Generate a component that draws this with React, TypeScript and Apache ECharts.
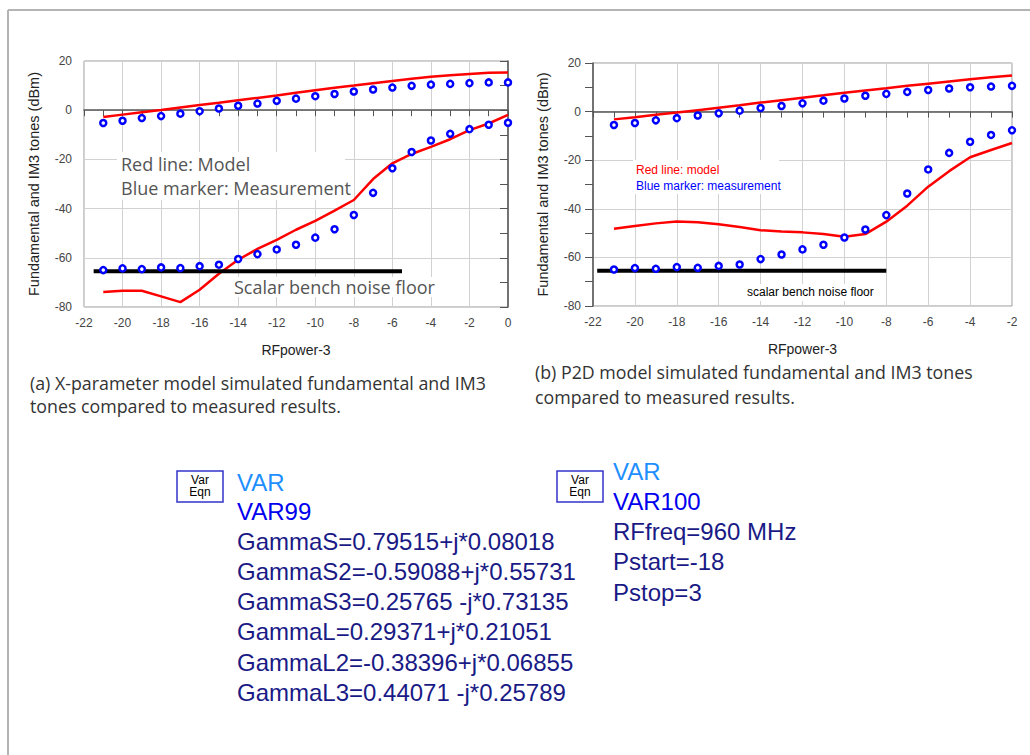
import React, { useEffect, useRef } from "react";
import * as echarts from "echarts";

// ---------- data ----------
const xLeft = [-21, -20, -19, -18, -17, -16, -15, -14, -13, -12, -11, -10, -9, -8, -7, -6, -5, -4, -3, -2, -1, 0];
const fundModelLeft = [-2.8, -1.8, -0.8, 0.1, 1.1, 2.1, 3.0, 4.0, 5.0, 6.0, 7.1, 8.1, 9.1, 10.0, 11.0, 11.9, 12.8, 13.6, 14.2, 14.7, 15.2, 15.3];
const fundMeasLeft = [-5.2, -4.3, -3.2, -2.4, -1.4, -0.4, 0.7, 1.8, 2.7, 3.8, 4.7, 5.7, 6.6, 7.6, 8.4, 9.2, 9.9, 10.4, 10.7, 11.0, 11.3, 11.3];
const im3ModelLeft = [-73.9, -73.4, -73.4, -75.7, -78.0, -73.0, -66.5, -60.8, -56.4, -52.7, -48.6, -45.0, -40.8, -36.5, -28.0, -21.6, -17.8, -14.9, -11.8, -8.1, -5.4, -1.9];
const im3MeasLeft = [-65.0, -64.3, -64.6, -63.9, -64.2, -63.4, -62.8, -60.5, -58.5, -56.6, -54.7, -51.8, -48.4, -42.6, -33.6, -23.6, -17.0, -12.3, -9.6, -7.7, -5.9, -5.1];
const noiseFloorLeft = [[-21.5, -65.5], [-5.5, -65.5]];

const xRight = [-21, -20, -19, -18, -17, -16, -15, -14, -13, -12, -11, -10, -9, -8, -7, -6, -5, -4, -3, -2];
const fundModelRight = [-3.2, -2.3, -1.3, -0.4, 0.6, 1.6, 2.6, 3.7, 4.7, 5.7, 6.7, 7.8, 8.7, 9.6, 10.6, 11.5, 12.4, 13.3, 14.1, 14.9];
const fundMeasRight = [-5.5, -4.7, -3.6, -2.7, -1.6, -0.7, 0.4, 1.5, 2.3, 3.4, 4.5, 5.4, 6.5, 7.3, 8.1, 8.9, 9.5, 10.0, 10.3, 10.6];
const im3ModelRight = [-48.2, -47.1, -46.0, -45.2, -45.5, -46.4, -47.5, -48.8, -49.3, -49.7, -50.4, -51.5, -50.4, -45.3, -38.7, -30.9, -24.5, -18.8, -15.8, -12.9];
const im3MeasRight = [-65.0, -64.4, -64.7, -64.0, -64.3, -63.5, -62.9, -60.7, -58.8, -56.7, -54.8, -51.8, -48.5, -42.6, -33.7, -23.8, -17.0, -12.4, -9.6, -7.7];
const noiseFloorRight = [[-21.8, -65.5], [-8.0, -65.5]];

const yAxisName = "Fundamental and IM3 tones (dBm)";
const xAxisName = "RFpower-3";
const captionA = ["(a) X-parameter model simulated fundamental and IM3", "tones compared to measured results."];
const captionB = ["(b) P2D model simulated fundamental and IM3 tones", "compared to measured results."];
const varLeft = ["GammaS=0.79515+j*0.08018", "GammaS2=-0.59088+j*0.55731", "GammaS3=0.25765 -j*0.73135", "GammaL=0.29371+j*0.21051", "GammaL2=-0.38396+j*0.06855", "GammaL3=0.44071 -j*0.25789"];
const varRight = ["RFfreq=960 MHz", "Pstart=-18", "Pstop=3"];

const pairs = (xs: number[], ys: number[]) => xs.map((x, i) => [x, ys[i]]);

const AX_FONT = "'Liberation Sans', Arial, sans-serif";
const CAP_FONT = "'Open Sans', sans-serif";

function makeXAxis(gridIndex: number, max: number) {
  return {
    type: "value",
    gridIndex,
    min: -22,
    max,
    interval: 2,
    name: xAxisName,
    nameLocation: "middle",
    nameGap: 36,
    nameTextStyle: { fontSize: 14, color: "#222", fontFamily: AX_FONT },
    axisLine: { show: true, lineStyle: { color: "#555", width: 1.5 } },
    axisTick: { show: true, inside: false, length: 6, lineStyle: { color: "#555" } },
    minorTick: { show: true, splitNumber: 2, length: 6, lineStyle: { color: "#555" } },
    splitLine: { show: true, lineStyle: { color: "#d2d2d2", width: 1 } },
    axisLabel: { fontSize: 12, color: "#444", margin: 10, fontFamily: AX_FONT },
  };
}

function makeYAxis(gridIndex: number, gap: number) {
  return {
    type: "value",
    gridIndex,
    min: -80,
    max: 20,
    interval: 20,
    name: yAxisName,
    nameLocation: "middle",
    nameGap: gap,
    nameTextStyle: { fontSize: 14.5, color: "#222", fontFamily: AX_FONT },
    axisLine: { show: true, lineStyle: { color: "#555", width: 1.5 } },
    axisTick: { show: true, inside: false, length: 8, lineStyle: { color: "#555" } },
    minorTick: { show: true, splitNumber: 2, length: 8, lineStyle: { color: "#555" } },
    splitLine: { show: true, lineStyle: { color: "#d2d2d2", width: 1 } },
    axisLabel: { fontSize: 12, color: "#444", margin: 12, fontFamily: AX_FONT },
  };
}

function lineSeries(idx: number, data: number[][], color: string, width: number) {
  return {
    type: "line",
    xAxisIndex: idx,
    yAxisIndex: idx,
    data,
    showSymbol: false,
    symbol: "none",
    lineStyle: { color, width },
    z: 3,
    silent: true,
  };
}

function markerSeries(idx: number, data: number[][]) {
  return {
    type: "scatter",
    xAxisIndex: idx,
    yAxisIndex: idx,
    data,
    symbol: "circle",
    symbolSize: 6,
    itemStyle: { color: "#ffffff", borderColor: "#0000ff", borderWidth: 2.5, opacity: 1 },
    z: 4,
    silent: true,
  };
}

function txt(x: number, y: number, text: string, font: string, size: number, color: string, extra: any = {}) {
  return {
    type: "text",
    x,
    y,
    z: 10,
    silent: true,
    style: {
      text,
      fontFamily: font,
      fontSize: size,
      fill: color,
      textAlign: "left",
      textVerticalAlign: "middle",
      ...extra,
    },
  };
}

function whiteRect(x: number, y: number, w: number, h: number) {
  return { type: "rect", z: 1, silent: true, shape: { x, y, width: w, height: h }, style: { fill: "#ffffff" } };
}

function varBox(x: number, y: number) {
  return [
    { type: "rect", z: 5, silent: true, shape: { x, y, width: 46, height: 31 }, style: { fill: "#fff", stroke: "#3333cc", lineWidth: 1.5 } },
    { type: "text", z: 6, silent: true, x: x + 23, y: y + 9, style: { text: "Var", fontFamily: AX_FONT, fontSize: 12, fill: "#000", textAlign: "center", textVerticalAlign: "middle" } },
    { type: "text", z: 6, silent: true, x: x + 23, y: y + 21, style: { text: "Eqn", fontFamily: AX_FONT, fontSize: 12, fill: "#000", textAlign: "center", textVerticalAlign: "middle" } },
  ];
}

export default function App() {
  const ref = useRef<HTMLDivElement>(null);
  useEffect(() => {
    if (!ref.current) return;
    const chart = echarts.init(ref.current, undefined, { renderer: "svg" });

    const graphic: any[] = [
      { type: "line", z: 0, silent: true, shape: { x1: 8, y1: 10, x2: 8, y2: 755 }, style: { stroke: "#b4b4b4", lineWidth: 2 } },
      { type: "line", z: 0, silent: true, shape: { x1: 8, y1: 10, x2: 1030, y2: 10 }, style: { stroke: "#b4b4b4", lineWidth: 2 } },
      // left annotations
      whiteRect(117, 152, 228, 48),
      txt(121, 164, "Red line: Model", CAP_FONT, 18, "#555"),
      txt(121, 188, "Blue marker: Measurement", CAP_FONT, 18, "#555"),
      whiteRect(230, 277, 210, 20),
      txt(234, 287, "Scalar bench noise floor", CAP_FONT, 18, "#555"),
      // right annotations
      whiteRect(633, 160, 146, 34),
      txt(636, 170, "Red line: model", AX_FONT, 12, "#ff0000"),
      txt(636, 186, "Blue marker: measurement", AX_FONT, 12, "#0000ff"),
      whiteRect(744, 284, 128, 17),
      txt(747, 292, "scalar bench noise floor", AX_FONT, 12, "#000"),
      // captions
      txt(30, 383, captionA[0], CAP_FONT, 17.8, "#333"),
      txt(30, 406, captionA[1], CAP_FONT, 17.8, "#333"),
      txt(535, 372, captionB[0], CAP_FONT, 17.8, "#333"),
      txt(535, 397, captionB[1], CAP_FONT, 17.8, "#333"),
      // VAR blocks
      ...varBox(177, 471),
      txt(237, 482, "VAR", AX_FONT, 24, "#1e8fff"),
      txt(237, 511, "VAR99", AX_FONT, 24, "#0000ee"),
      ...varLeft.map((s, i) => txt(237, 541 + i * 30.3, s, AX_FONT, 24, "#1a1a86")),
      ...varBox(557, 471),
      txt(613, 471, "VAR", AX_FONT, 24, "#1e8fff"),
      txt(613, 501, "VAR100", AX_FONT, 24, "#0000ee"),
      ...varRight.map((s, i) => txt(613, 531 + i * 30.5, s, AX_FONT, 24, "#1a1a86")),
    ];

    chart.setOption({
      animation: false,
      backgroundColor: "#ffffff",
      grid: [
        { left: 84, right: 522, top: 61, bottom: 448, show: true, borderColor: "#999", borderWidth: 1, backgroundColor: "transparent" },
        { left: 593, right: 18, top: 63, bottom: 449, show: true, borderColor: "#999", borderWidth: 1, backgroundColor: "transparent" },
      ],
      xAxis: [makeXAxis(0, 0), makeXAxis(1, -2)],
      yAxis: [makeYAxis(0, 43), makeYAxis(1, 43)],
      series: [
        lineSeries(0, pairs(xLeft, fundModelLeft), "#ff0000", 2.5),
        lineSeries(0, pairs(xLeft, im3ModelLeft), "#ff0000", 2.5),
        lineSeries(0, noiseFloorLeft, "#000000", 4),
        markerSeries(0, pairs(xLeft, fundMeasLeft)),
        markerSeries(0, pairs(xLeft, im3MeasLeft)),
        lineSeries(1, pairs(xRight, fundModelRight), "#ff0000", 2.5),
        lineSeries(1, pairs(xRight, im3ModelRight), "#ff0000", 2.5),
        lineSeries(1, noiseFloorRight, "#000000", 4),
        markerSeries(1, pairs(xRight, fundMeasRight)),
        markerSeries(1, pairs(xRight, im3MeasRight)),
      ],
      graphic,
    });
    return () => chart.dispose();
  }, []);
  return <div ref={ref} style={{ position: "fixed", left: 0, top: 0, width: 1030, height: 755 }} />;
}
